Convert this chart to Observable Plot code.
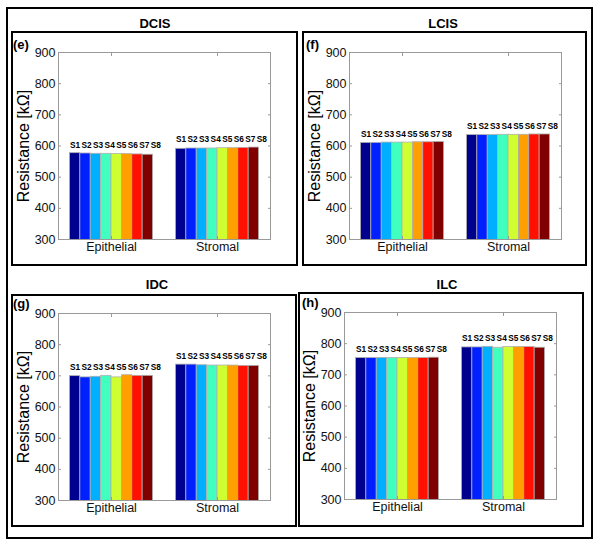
<!DOCTYPE html>
<html><head><meta charset="utf-8">
<script src="https://cdn.jsdelivr.net/npm/d3@7"></script>
<script src="https://cdn.jsdelivr.net/npm/@observablehq/plot@0.6"></script>
<style>
body{margin:0;background:#fff;font-family:"Liberation Sans",Arial,Helvetica,sans-serif;}
#root{position:relative;width:602px;height:547px;overflow:hidden;}
.box{position:absolute;border:2px solid #000;box-sizing:border-box;}
.title{position:absolute;font-weight:bold;font-size:13px;line-height:1;transform:translateX(-50%);white-space:nowrap;}
.tag{position:absolute;font-weight:bold;font-size:13px;line-height:1;}
.plot{position:absolute;}
</style></head><body><div id="root"></div>
<script>
// ---- data ----
const series = ["S1","S2","S3","S4","S5","S6","S7","S8"];
const groups = ["Epithelial","Stromal"];
const seriesColors = ["#00008F","#0020FF","#00AFFF","#40FFBF","#CFFF30","#FF9F00","#FF1000","#800000"];
const yTicks = [300,400,500,600,700,800,900];
const panelNames = ["DCIS","LCIS","IDC","ILC"];
const panelTags = ["(e)","(f)","(g)","(h)"];
const yLabel = "Resistance [kΩ]";

const dcisEpithelial = [577,576,575,575,574,574,573,572];
const dcisStromal    = [591,592,592,592,593,593,594,595];
const lcisEpithelial = [610,610,611,611,611,612,612,613];
const lcisStromal    = [635,635,635,636,636,636,637,637];
const idcEpithelial  = [699,695,697,700,695,702,700,700];
const idcStromal     = [736,736,734,733,733,733,732,732];
const ilcEpithelial  = [754,754,754,754,754,754,754,755];
const ilcStromal     = [788,788,790,787,789,789,789,787];

const panelValues = [
  [dcisEpithelial, dcisStromal],
  [lcisEpithelial, lcisStromal],
  [idcEpithelial, idcStromal],
  [ilcEpithelial, ilcStromal]
];

// ---- layout (page pixels) ----
const layout = [
  {box:[12,32,297,265], plotLeft:58,  plotTop:52,  title:[155,17],  tag:[13,38]},
  {box:[303,32,586,265], plotLeft:349, plotTop:52,  title:[443,17],  tag:[306,38]},
  {box:[12,295,296,526], plotLeft:58,  plotTop:313, title:[157,278], tag:[13,297]},
  {box:[299,293,583,526], plotLeft:344, plotTop:312, title:[447,278], tag:[302,296]}
];
const plotW = 212, plotH = 187;
const mL = 52, mT = 20, mR = 12, mB = 30;
const groupWidth = 0.784, barW = groupWidth / series.length;
const labelPitch = 0.109;
const font = '"Liberation Sans", Arial, Helvetica, sans-serif';

const root = document.getElementById("root");
function addBox(x0,y0,x1,y1){
  const d = document.createElement("div");
  d.className = "box";
  d.style.left = (x0-1)+"px"; d.style.top = (y0-1)+"px";
  d.style.width = (x1-x0+2)+"px"; d.style.height = (y1-y0+2)+"px";
  root.appendChild(d);
}
addBox(7,8,592,538);

panelNames.forEach((name, p) => {
  const L = layout[p];
  addBox(...L.box);
  const t = document.createElement("div");
  t.className = "title"; t.textContent = name;
  t.style.left = L.title[0]+"px"; t.style.top = L.title[1]+"px";
  root.appendChild(t);
  const g = document.createElement("div");
  g.className = "tag"; g.textContent = panelTags[p];
  g.style.left = L.tag[0]+"px"; g.style.top = L.tag[1]+"px";
  root.appendChild(g);

  const rows = groups.flatMap((grp, gi) => series.map((s, k) => ({
    group: grp, gi, series: s, k, value: panelValues[p][gi][k],
    groupMax: d3.max(panelValues[p][gi])
  })));
  const groupLeft = d => d.gi + 1 - groupWidth/2;
  const x1 = d => groupLeft(d) + d.k*barW;

  const chart = Plot.plot({
    width: plotW + mL + mR, height: plotH + mT + mB,
    marginLeft: mL, marginTop: mT, marginRight: mR, marginBottom: mB,
    style: {fontFamily: font, background: "transparent", overflow: "visible", color: "#000"},
    x: {domain: [0.5, 2.5]},
    y: {domain: [300, 900]},
    marks: [
      Plot.rect(rows, {x1, x2: d => x1(d) + barW, y1: 0, y2: "value",
        fill: d => seriesColors[d.k], stroke: "#b0b0b0", strokeWidth: 0.8, clip: true}),
      Plot.frame({stroke: "#9a9a9a", strokeWidth: 1}),
      Plot.text(rows, {x: d => groupLeft(d) + d.k*labelPitch, y: "groupMax", text: "series",
        textAnchor: "start", dy: -8, fontSize: 8.3, fontWeight: "bold", fill: "#000"}),
      Plot.axisY({ticks: yTicks, anchor: "left", tickSize: -3, tickPadding: 6,
        stroke: "#9a9a9a", fill: "#111", fontSize: 12.5, label: null}),
      Plot.axisY({ticks: yTicks, anchor: "right", tickSize: -3,
        stroke: "#9a9a9a", tickFormat: () => "", label: null}),
      Plot.axisY({ticks: [], anchor: "left", tickSize: 0, label: yLabel, labelArrow: "none",
        labelAnchor: "center", labelOffset: 41, fontSize: 16, fill: "#000"}),
      Plot.axisX({ticks: [1, 2], anchor: "bottom", tickSize: -3, tickPadding: 6,
        tickFormat: i => groups[i-1], stroke: "#9a9a9a", fill: "#111", fontSize: 12.5, label: null}),
      Plot.axisX({ticks: [1, 2], anchor: "top", tickSize: -3,
        tickFormat: () => "", stroke: "#9a9a9a", label: null})
    ]
  });
  chart.classList.add("plot");
  chart.style.left = (L.plotLeft - mL) + "px";
  chart.style.top = (L.plotTop - mT) + "px";
  root.appendChild(chart);
});
</script>
</body></html>
